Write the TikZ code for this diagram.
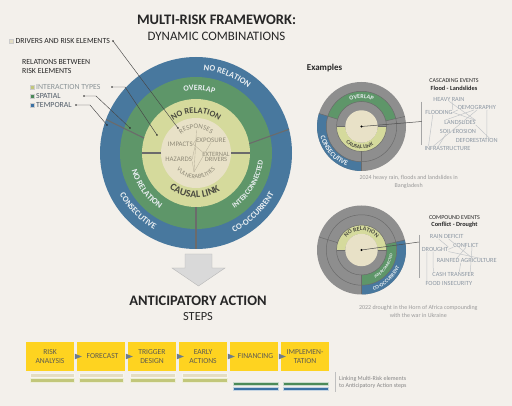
\documentclass[tikz,border=0pt]{standalone}
\usepackage{fontspec}
\setmainfont{Carlito}
\usetikzlibrary{decorations.text}
\definecolor{bg}{HTML}{F3F0EB}
\definecolor{cblue}{HTML}{48789E}
\definecolor{cgreen}{HTML}{5E9669}
\definecolor{cyel}{HTML}{D5DA9C}
\definecolor{cbeige}{HTML}{E8E1C7}
\definecolor{cgray}{HTML}{8E8E8E}
\definecolor{cdiv}{HTML}{6B6B6B}
\definecolor{tdark}{HTML}{262626}
\definecolor{tmid}{HTML}{4A4A40}
\definecolor{ringlt}{HTML}{E9EEF1}
\definecolor{netgray}{HTML}{8C97A3}
\definecolor{netline}{HTML}{C3C6C9}
\definecolor{inlab}{HTML}{8F8A78}
\definecolor{inlcol}{HTML}{B9B29C}
\definecolor{stepy}{HTML}{FED320}
\definecolor{stept}{HTML}{5C5A52}
\definecolor{tricol}{HTML}{6E7C8B}
\definecolor{sqbeige}{HTML}{E4DDC3}
\definecolor{sqyg}{HTML}{C2C77A}
\definecolor{sqgreen}{HTML}{4C8A59}
\definecolor{sqblue}{HTML}{3B71A3}
\definecolor{legt}{HTML}{8A9396}
\definecolor{legtb}{HTML}{4E5A66}
\definecolor{captc}{HTML}{9A9A9A}
\definecolor{arrg}{HTML}{D9D9D9}
\newcommand\fsz[1]{\fontsize{#1}{#1}\selectfont}
\newcommand\arctext[6]{\path[decorate,decoration={text along path,text align=center,text={|#5|#6}}] ([shift={(#3:#2)}]#1) arc[start angle=#3,end angle=#4,radius=#2];}
\newcommand\annsec[6]{\fill[#6] ([shift={(#4:#3)}]#1) arc[start angle=#4,end angle=#5,radius=#3] -- ([shift={(#5:#2)}]#1) arc[start angle=#5,end angle=#4,radius=#2] -- cycle;}
\begin{document}
\begin{tikzpicture}[x=1pt,y=1pt,
  legtxt/.style={font=\fsz{7.8}, text=tdark, inner sep=0},
  legsq/.style={minimum size=4.2, inner sep=0, draw=white!80!black, line width=0.3},
  leader/.style={draw=tdark!85, line width=0.45},
  divider/.style={draw=cdiv, line width=1.1},
  exline/.style={draw=cdiv, line width=0.5},
  inl/.style={font=\fsz{6.9}, text=inlab, inner sep=0},
  inlink/.style={draw=inlcol, line width=0.35},
  net/.style={font=\fsz{6.3}, text=netgray, inner sep=0},
  netlink/.style={draw=netline, line width=0.5},
  stepbox/.style={fill=stepy, minimum width=48, minimum height=29, inner sep=0, align=center, font=\fontsize{7.6}{9}\selectfont, text=stept},
  captn/.style={font=\fontsize{6}{7.6}\selectfont, text=captc, inner sep=0, align=center},
]
\useasboundingbox (0,0) rectangle (512,-406);
\fill[bg] (0,0) rectangle (512,-406);

% titles
\node[font=\fsz{14.5}\bfseries, text=tdark, inner sep=0] (title) at (216.5,-20) {MULTI-RISK FRAMEWORK:};
\node[font=\fsz{12.9}, text=tdark, inner sep=0] (subtitle) at (216.5,-36) {DYNAMIC COMBINATIONS};

% legend
\node[legsq, fill=sqbeige] (sqd) at (11.3,-41) {};
\node[legtxt, anchor=west] (drv) at (15.5,-41) {DRIVERS AND RISK ELEMENTS};
\node[legtxt, align=left, anchor=west, font=\fontsize{7.8}{9}\selectfont] (rel) at (22,-66.5) {RELATIONS BETWEEN\\RISK ELEMENTS};
\node[legsq, fill=sqyg] (sqi) at (32,-87) {};
\node[legtxt, anchor=west, text=legt] (lint) at (36,-87) {INTERACTION TYPES};
\node[legsq, fill=sqgreen] (sqs) at (32,-96) {};
\node[legtxt, anchor=west, text=legtb] (lspa) at (36,-96) {SPATIAL};
\node[legsq, fill=sqblue] (sqt) at (32,-105) {};
\node[legtxt, anchor=west, text=legtb] (ltem) at (36,-105) {TEMPORAL};

% big wheel
\coordinate (C) at (196,-153);
\fill[cblue] (C) circle[radius=96];
\fill[cgreen] (C) circle[radius=76];
\fill[cyel] (C) circle[radius=54];
\fill[cbeige] (C) circle[radius=35];
\draw[divider] ([shift={(159.6:96)}]C) -- ([shift={(164:54)}]C);
\draw[divider] ([shift={(14.3:96)}]C) -- ([shift={(10:54)}]C);
\draw[divider] ([shift={(270:54)}]C) -- ([shift={(270:96)}]C);
\draw[divider] ([shift={(180:35)}]C) -- ([shift={(180:54)}]C);
\draw[divider] ([shift={(0:35)}]C) -- ([shift={(0:54)}]C);

\arctext{C}{83}{128}{8}{\fsz{8.5}\bfseries\color{ringlt}}{NO RELATION}
\arctext{C}{62.5}{147}{27}{\fsz{8}\bfseries\color{ringlt}}{OVERLAP}
\arctext{C}{39.5}{150}{30}{\fsz{8.5}\bfseries\color{tmid}}{NO RELATION}
\arctext{C}{44.5}{198}{338}{\fsz{10}\bfseries\color{tmid}}{CAUSAL LINK}
\arctext{C}{66.5}{156}{276}{\fsz{8.5}\bfseries\color{ringlt}}{NO RELATION}
\arctext{C}{87}{165}{285}{\fsz{8.5}\bfseries\color{ringlt}}{CONSECUTIVE}
\arctext{C}{67.5}{279}{379}{\fsz{7.5}\bfseries\color{ringlt}}{INTERCONNECTED}
\arctext{C}{88}{264}{364}{\fsz{8.5}\bfseries\color{ringlt}}{CO-OCCURRENT}

% inner labels
\node[inl] (imp) at (180.3,-144) {IMPACTS};
\node[inl] (exp) at (211,-140) {EXPOSURE};
\node[inl] (haz) at (178.7,-159) {HAZARDS};
\node[inl, align=center, font=\fontsize{6.5}{5.2}\selectfont] (ext) at (216,-156.7) {EXTERNAL\\DRIVERS};
\coordinate (resB) at (196.5,-130);
\coordinate (vulT) at (194,-172);
\draw[inlink] (resB) -- (vulT);
\draw[inlink] (imp.east) -- (exp.west);
\draw[inlink] (imp.east) -- (ext.north west);
\draw[inlink] (exp.south west) -- (haz.east);
\draw[inlink] (exp.south) -- (vulT);
\draw[inlink] (haz.south east) -- (vulT);
\arctext{C}{24.2}{150}{30}{\fsz{6.9}\color{inlab}}{RESPONSES}
\arctext{C}{25.6}{190}{350}{\fsz{6.2}\color{inlab}}{VULNERABILITIES}

% leader lines
\coordinate (drvA) at (113,-41);
\coordinate (drvB) at (178,-128);
\coordinate (intA) at (112,-87);
\coordinate (intK) at (125,-87);
\coordinate (intB) at (157,-135);
\coordinate (spaA) at (84,-96);
\coordinate (spaK) at (96,-96);
\coordinate (spaB) at (130,-128);
\coordinate (temA) at (76,-105);
\coordinate (temK) at (90,-105);
\coordinate (temB) at (107,-125);
\draw[leader] (drvA) -- (drvB);
\draw[leader] (intA) -- (intK) -- (intB);
\draw[leader] (spaA) -- (spaK) -- (spaB);
\draw[leader] (temA) -- (temK) -- (temB);
\foreach \p in {drvA,drvB,intA,intB,spaA,spaB,temA,temB} \fill[tdark] (\p) circle[radius=0.9];

% down arrow
\filldraw[fill=arrg, draw=arrg!85!black, line width=0.4] (185,-254) -- (212,-254) -- (212,-268) -- (225,-268) -- (198.5,-286) -- (172,-268) -- (185,-268) -- cycle;
\node[font=\fsz{14.5}\bfseries, text=tdark, inner sep=0] (aa) at (198,-300.7) {ANTICIPATORY ACTION};
\node[font=\fsz{12.4}, text=tdark, inner sep=0] (steps) at (198,-316.7) {STEPS};

% steps
\node[stepbox] (s1) at (50,-356.5) {RISK\\ANALYSIS};
\node[stepbox] (s2) at (101,-356.5) {\hspace*{3pt}FORECAST};
\node[stepbox] (s3) at (152,-356.5) {TRIGGER\\DESIGN};
\node[stepbox] (s4) at (203,-356.5) {EARLY\\ACTIONS};
\node[stepbox] (s5) at (254,-356.5) {\hspace*{3pt}FINANCING};
\node[stepbox] (s6) at (305,-356.5) {IMPLEMEN-\\TATION};
\foreach \s in {s2,s3,s4,s5,s6}
  \fill[tricol] ([xshift=-2,yshift=2.8]\s.west) -- ([xshift=5]\s.west) -- ([xshift=-2,yshift=-2.8]\s.west) -- cycle;
\foreach \a/\b in {30/74,79/123,130/175,182/227} {
  \filldraw[fill=sqbeige, draw=white!70!sqbeige, line width=0.3] (\a,-373.5) rectangle (\b,-376.7);
  \filldraw[fill=sqyg, draw=white!70!sqyg, line width=0.3] (\a,-378.6) rectangle (\b,-381.7);
}
\foreach \a/\b in {233/278,283/328} {
  \filldraw[fill=sqgreen, draw=white!70!sqgreen, line width=0.3] (\a,-382.3) rectangle (\b,-385.2);
  \filldraw[fill=sqblue, draw=white!70!sqblue, line width=0.3] (\a,-387.6) rectangle (\b,-390.5);
}
\coordinate (vlT) at (335,-372);
\coordinate (vlB) at (335,-392);
\draw[draw=black!25, line width=0.8] (vlT) -- (vlB);
\node[captn, anchor=west, align=left, font=\fontsize{6}{6.8}\selectfont, text=black!48] (link) at (339,-382.3) {Linking Multi-Risk elements\\to Anticipatory Action steps};

% examples
\node[font=\fsz{9}\bfseries, text=tdark, anchor=west, inner sep=0] (exs) at (306.7,-68.3) {Examples};

% example 1
\coordinate (E1) at (361.5,-126.5);
\fill[cgray] (E1) circle[radius=44.5];
\annsec{E1}{35.2}{44.5}{163}{270}{cblue}
\annsec{E1}{25}{35.2}{13}{163}{cgreen}
\annsec{E1}{16.2}{25}{180}{360}{cyel}
\fill[cbeige] (E1) circle[radius=16.2];
\draw[exline] (E1) circle[radius=35.2] (E1) circle[radius=25];
\draw[exline] ([shift={(163:25)}]E1) -- ([shift={(163:44.5)}]E1);
\draw[exline] ([shift={(13:25)}]E1) -- ([shift={(13:44.5)}]E1);
\draw[exline] ([shift={(270:25)}]E1) -- ([shift={(270:44.5)}]E1);
\draw[exline] ([shift={(0:16.2)}]E1) -- ([shift={(0:25)}]E1);
\draw[exline] ([shift={(180:16.2)}]E1) -- ([shift={(180:25)}]E1);
\arctext{E1}{28}{150}{30}{\fsz{6}\bfseries\color{ringlt}}{OVERLAP}
\arctext{E1}{42.3}{162}{282}{\fsz{7}\bfseries\color{ringlt}}{CONSECUTIVE}
\arctext{E1}{22.4}{194}{334}{\fsz{5.5}\bfseries\color{tmid}}{CAUSAL LINK}
\coordinate (b1T) at (421.7,-101.7);
\coordinate (b1B) at (421.7,-145);
\coordinate (b1M) at (421.7,-121.5);
\draw[draw=black!35, line width=0.8] (b1T) -- (b1B);
\draw[draw=black!70, line width=0.5] (E1) -- (b1M);
\fill[black] (E1) circle[radius=1.2];
\node[font=\fsz{6}, text=tdark, inner sep=0] (casc) at (454,-81) {CASCADING EVENTS};
\node[font=\fsz{6.3}\bfseries, text=tdark, inner sep=0] (flood) at (454,-88.3) {Flood - Landslides};
\node[net] (hr) at (449,-99) {HEAVY RAIN};
\node[net] (dem) at (477,-107.7) {DEMOGRAPHY};
\node[net] (fl) at (439,-112.3) {FLOODING};
\node[net] (ls) at (460,-122.7) {LANDSLIDES};
\node[net] (se) at (458,-131.7) {SOIL EROSION};
\node[net] (def) at (476.7,-140.7) {DEFORESTATION};
\node[net] (inf) at (447.5,-148.3) {INFRASTRUCTURE};
\draw[netlink] ([xshift=3]hr.south) -- (fl.north east);
\draw[netlink] (hr.south) -- (ls.north east);
\draw[netlink] (fl.east) -- (dem.south west);
\draw[netlink] (fl.east) -- (ls.north east);
\draw[netlink] ([xshift=-3]dem.south) -- (ls.north west);
\draw[netlink] (dem.south) -- ([xshift=-14]inf.north);
\draw[netlink] ([xshift=-20]fl.south east) -- ([xshift=-19]inf.north);
\draw[netlink] ([xshift=10]dem.south) -- ([xshift=10]def.north);
\draw[netlink] (ls.south east) -- ([xshift=13]def.north);
\draw[netlink] ([xshift=-12]se.south) -- ([xshift=-9]inf.north);
\node[captn] (cap1) at (408.7,-182.2) {2024 heavy rain, floods and landslides in\\Bangladesh};

% example 2
\coordinate (E2) at (361.5,-250);
\fill[cgray] (E2) circle[radius=44.5];
\annsec{E2}{35.2}{44.5}{270}{373}{cblue}
\annsec{E2}{25}{35.2}{270}{373}{cgreen}
\annsec{E2}{16.2}{25}{0}{180}{cyel}
\fill[cbeige] (E2) circle[radius=16.2];
\draw[exline] (E2) circle[radius=35.2] (E2) circle[radius=25];
\draw[exline] ([shift={(163:25)}]E2) -- ([shift={(163:44.5)}]E2);
\draw[exline] ([shift={(13:25)}]E2) -- ([shift={(13:44.5)}]E2);
\draw[exline] ([shift={(270:25)}]E2) -- ([shift={(270:44.5)}]E2);
\draw[exline] ([shift={(0:16.2)}]E2) -- ([shift={(0:25)}]E2);
\draw[exline] ([shift={(180:16.2)}]E2) -- ([shift={(180:25)}]E2);
\arctext{E2}{19.3}{160}{20}{\fsz{6}\bfseries\color{tmid}}{NO RELATION}
\arctext{E2}{31.3}{274}{374}{\fsz{4}\bfseries\color{ringlt}}{INTERCONNECTED}
\arctext{E2}{41.8}{261}{361}{\fsz{5.3}\bfseries\color{ringlt}}{CO-OCCURRENT}
\coordinate (b2T) at (419,-235);
\coordinate (b2B) at (419,-278);
\coordinate (b2M) at (419,-242);
\draw[draw=black!35, line width=0.8] (b2T) -- (b2B);
\draw[draw=black!70, line width=0.5] (E2) -- (b2M);
\fill[black] (E2) circle[radius=1.2];
\node[font=\fsz{6}, text=tdark, inner sep=0] (comp) at (454.5,-217.7) {COMPOUND EVENTS};
\node[font=\fsz{6.3}\bfseries, text=tdark, inner sep=0] (confd) at (454.5,-224.6) {Conflict - Drought};
\node[net] (rd) at (446.7,-236.7) {RAIN DEFICIT};
\node[net] (con) at (466,-245) {CONFLICT};
\node[net] (dr) at (435,-249.3) {DROUGHT};
\node[net] (ra) at (466.7,-260.7) {RAINFED AGRICULTURE};
\node[net] (ct) at (453.3,-274) {CASH TRANSFER};
\node[net] (fi) at (448.8,-283.3) {FOOD INSECURITY};
\draw[netlink] ([xshift=-8]rd.south) -- (dr.north east);
\draw[netlink] ([xshift=2]rd.south) -- ([xshift=6]ra.north);
\draw[netlink] (dr.east) -- (con.south west);
\draw[netlink] (dr.south east) -- ([xshift=14]ra.north);
\draw[netlink] (con.south) -- ([xshift=-10]ra.north);
\draw[netlink] ([xshift=-8]dr.south) -- ([xshift=-22]fi.north);
\draw[netlink] ([xshift=-2]dr.south) -- ([xshift=-20]ct.north);
\draw[netlink] ([xshift=6]con.south) -- ([xshift=17]ct.north);
\draw[netlink] ([xshift=-6]ra.south) -- ([xshift=6]ct.north);
\node[captn] (cap2) at (418.3,-311.5) {2022 drought in the Horn of Africa compounding\\with the war in Ukraine};
\end{tikzpicture}
\end{document}
